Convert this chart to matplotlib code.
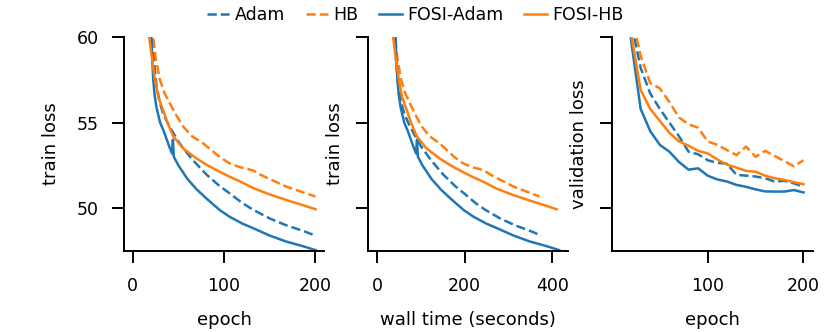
import matplotlib
matplotlib.use("Agg")
import matplotlib.pyplot as plt

# train loss vs epoch (curves clipped at 60)
adam_ep = [19, 21.4, 22.5, 24, 26.2, 30, 33.5, 39, 44.4, 50, 55.3, 66, 81, 95, 106, 120, 132, 150, 168, 185, 200]
adam_loss = [63, 60.0, 59.2, 58.2, 57.1, 56.1, 55.5, 54.9, 54.4, 53.9, 53.5, 52.8, 51.95, 51.3, 50.87, 50.3, 49.9, 49.4, 49.0, 48.7, 48.4]

hb_ep = [20, 22.5, 25, 29.8, 35, 40.8, 48, 55.3, 65, 77, 87, 95, 106, 117, 125, 132, 140, 150, 168, 185, 200]
hb_loss = [63, 60.0, 58.8, 57.5, 56.7, 56.1, 55.4, 54.76, 54.2, 53.79, 53.35, 53.0, 52.62, 52.4, 52.3, 52.2, 51.95, 51.7, 51.26, 50.95, 50.68]

fosi_adam_ep = [18, 20.5, 21.5, 22.5, 24, 26, 30, 34, 40, 43, 44, 45, 50, 60, 70, 80, 95, 106, 120, 131, 150, 168, 185, 200]
fosi_adam_loss = [63.5, 60.0, 58.6, 57.5, 56.6, 55.9, 55.0, 54.5, 53.6, 53.2, 54.0, 53.0, 52.5, 51.7, 51.1, 50.6, 49.9, 49.5, 49.1, 48.85, 48.4, 48.05, 47.8, 47.55]

fosi_hb_ep = [16, 18, 20, 24.4, 28, 33.5, 38, 44.4, 55, 70, 82, 95, 106, 120, 132, 150, 168, 185, 200]
fosi_hb_loss = [63, 60.0, 59.2, 57.5, 56.5, 55.7, 55.0, 54.2, 53.5, 52.9, 52.5, 52.13, 51.84, 51.5, 51.17, 50.8, 50.48, 50.2, 49.94]

# total wall time (seconds) after 200 epochs: Adam, HB, FOSI-Adam, FOSI-HB
wall_time_total = [375, 371, 416, 410]
n_epochs = 200

# validation loss, evaluated every 10 epochs
val_ep = [10, 20, 30, 40, 50, 60, 70, 80, 90, 100, 110, 120, 130, 140, 150, 160, 170, 180, 190, 200]
adam_val = [70, 60.85, 58.2, 56.7, 55.8, 55.0, 54.2, 53.3, 53.15, 52.8, 52.65, 52.6, 51.95, 51.9, 51.85, 51.75, 51.55, 51.6, 51.45, 51.25]
hb_val = [72, 61.4, 58.9, 57.3, 57.0, 56.2, 55.3, 54.9, 54.7, 53.9, 53.7, 53.4, 53.1, 53.6, 53.0, 53.35, 53.05, 52.75, 52.45, 52.8]
fosi_adam_val = [68, 59.8, 55.8, 54.5, 53.7, 53.3, 52.7, 52.25, 52.33, 51.9, 51.68, 51.56, 51.36, 51.25, 51.1, 50.98, 50.97, 50.97, 51.06, 50.92]
fosi_hb_val = [70, 60.2, 56.9, 55.8, 55.1, 54.4, 53.9, 53.65, 53.35, 53.2, 52.85, 52.55, 52.37, 52.18, 52.13, 51.9, 51.75, 51.65, 51.52, 51.4]

names = ['Adam', 'HB', 'FOSI-Adam', 'FOSI-HB']
colors = ['#1f77b4', '#ff7f0e', '#1f77b4', '#ff7f0e']
styles = ['--', '--', '-', '-']

plt.rcParams.update({
    'font.family': 'DejaVu Sans',
    'font.size': 12.5,
    'axes.labelsize': 13,
    'xtick.labelsize': 12.5,
    'ytick.labelsize': 12.5,
    'legend.fontsize': 12.5,
    'axes.linewidth': 1.4,
    'xtick.major.size': 8.4,
    'ytick.major.size': 8.4,
    'xtick.major.width': 1.4,
    'ytick.major.width': 1.4,
    'xtick.major.pad': 10,
    'ytick.major.pad': 9.5,
    'lines.linewidth': 1.8,
    'axes.spines.top': False,
    'axes.spines.right': False,
})

fig, axes = plt.subplots(1, 3, figsize=(8.3, 3.32), dpi=100, sharey=True)
plt.subplots_adjust(left=0.1494, right=0.979, bottom=0.244, top=0.8886, wspace=0.22)

train_ep = [adam_ep, hb_ep, fosi_adam_ep, fosi_hb_ep]
train_loss = [adam_loss, hb_loss, fosi_adam_loss, fosi_hb_loss]
val_loss = [adam_val, hb_val, fosi_adam_val, fosi_hb_val]

lines = []
for i in range(4):
    ln, = axes[0].plot(train_ep[i], train_loss[i], color=colors[i], linestyle=styles[i], label=names[i])
    lines.append(ln)
    t = [e / n_epochs * wall_time_total[i] for e in train_ep[i]]
    axes[1].plot(t, train_loss[i], color=colors[i], linestyle=styles[i])
    axes[2].plot(val_ep, val_loss[i], color=colors[i], linestyle=styles[i])

axes[0].set_xlim(-9.5, 209.5)
axes[1].set_xlim(-19.8, 436.8)
axes[2].set_xlim(0.5, 209.5)
axes[0].set_ylim(47.5, 60)
axes[0].set_yticks([50, 55, 60])
axes[0].set_xticks([0, 100, 200])
axes[1].set_xticks([0, 200, 400])
axes[2].set_xticks([100, 200])

axes[0].set_xlabel('epoch', labelpad=12)
axes[0].set_ylabel('train loss', labelpad=12)
axes[1].set_xlabel('wall time (seconds)', labelpad=12)
axes[1].set_ylabel('train loss', labelpad=9)
axes[2].set_xlabel('epoch', labelpad=12)
axes[2].set_ylabel('validation loss', labelpad=9)

fig.legend(lines, names, loc='center', bbox_to_anchor=(0.5, 1 - 15 / 332), ncol=4,
           frameon=False, handlelength=1.3, handletextpad=0.3, columnspacing=1.2)

plt.savefig('out.png', dpi=100)
